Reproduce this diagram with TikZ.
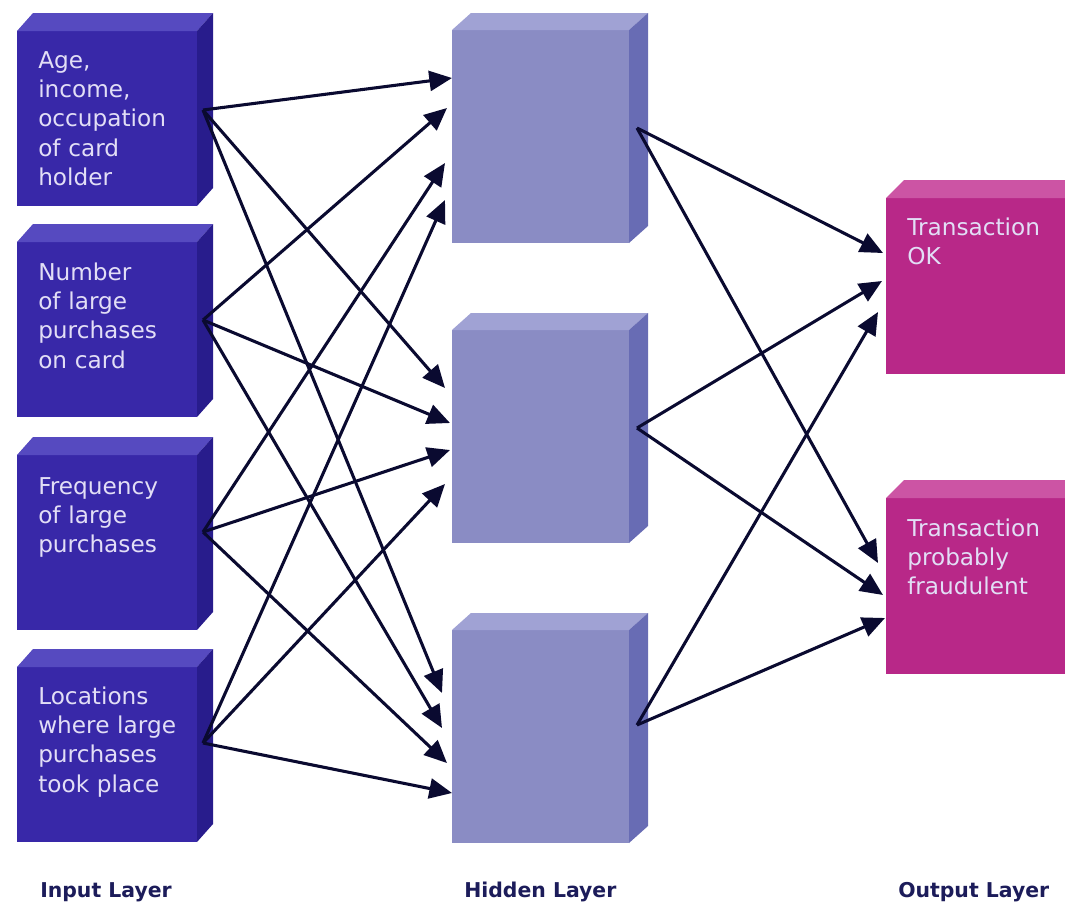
\documentclass[tikz,border=0pt]{standalone}
\usepackage{fontspec}
\setmainfont{DejaVu Sans}
\usetikzlibrary{arrows.meta}
\definecolor{inF}{RGB}{56,40,168}
\definecolor{inT}{RGB}{86,74,192}
\definecolor{inS}{RGB}{40,28,140}
\definecolor{hidF}{RGB}{138,140,196}
\definecolor{hidT}{RGB}{160,162,212}
\definecolor{hidS}{RGB}{104,108,180}
\definecolor{outF}{RGB}{184,40,136}
\definecolor{outT}{RGB}{204,84,164}
\definecolor{outS}{RGB}{150,30,110}
\definecolor{boxtext}{RGB}{226,222,246}
\definecolor{wire}{RGB}{10,10,48}
\definecolor{labeltext}{RGB}{28,28,90}
\newcommand\cubefaces[5]{%
  \fill[#4] (#1.north west) -- ++(#2,-#3) -- ([shift={(#2,-#3)}]#1.north east) -- (#1.north east) -- cycle;
  \fill[#5] (#1.north east) -- ([shift={(#2,-#3)}]#1.north east) -- ([shift={(#2,-#3)}]#1.south east) -- (#1.south east) -- cycle;}
\tikzset{
  box/.style={rectangle, inner sep=0pt, outer sep=0pt, anchor=north west},
  inbox/.style={box, fill=inF, minimum width=135pt, minimum height=131.25pt},
  hidbox/.style={box, fill=hidF, minimum width=132.75pt, minimum height=159.75pt},
  outbox/.style={box, fill=outF, minimum width=150pt, minimum height=132pt},
  boxtxt/.style={anchor=base west, inner sep=0pt, text width=135pt, align=left, text=boxtext, font=\fontsize{17.4}{22}\selectfont},
  layer/.style={anchor=base west, inner sep=0pt, text=labeltext, font=\bfseries\fontsize{15.3}{18}\selectfont},
  conn/.style={draw=wire, line width=2.3pt, -{Triangle[length=17pt,width=15pt]}}
}
\begin{document}
\begin{tikzpicture}[x=0.75pt,y=-0.75pt]
\clip (0,0) rectangle (1065,904);
\fill[white] (0,0) rectangle (1065,904);
% input boxes
\node[inbox] (in1) at (17,31) {};
\node[inbox] (in2) at (17,242) {};
\node[inbox] (in3) at (17,455) {};
\node[inbox] (in4) at (17,667) {};
\foreach \n in {in1,in2,in3,in4} {\cubefaces{\n}{16}{18}{inT}{inS}}
% hidden boxes
\node[hidbox] (hid1) at (452,30) {};
\node[hidbox] (hid2) at (452,330) {};
\node[hidbox] (hid3) at (452,630) {};
\foreach \n in {hid1,hid2,hid3} {\cubefaces{\n}{19}{17}{hidT}{hidS}}
% output boxes
\node[outbox] (out1) at (886,198) {};
\node[outbox] (out2) at (886,498) {};
\foreach \n in {out1,out2} {\cubefaces{\n}{18}{18}{outT}{outS}}
% texts
\node[boxtxt] (tx1) at (38,68) {Age,\\income,\\occupation\\of card\\holder};
\node[boxtxt] (tx2) at (38,280) {Number\\of large\\purchases\\on card};
\node[boxtxt] (tx3) at (38,494) {Frequency\\of large\\purchases};
\node[boxtxt] (tx4) at (38,704) {Locations\\where large\\purchases\\took place};
\node[boxtxt] (tx5) at (907,235) {Transaction\\OK};
\node[boxtxt] (tx6) at (907,536) {Transaction\\probably\\fraudulent};
\node[layer] (l1) at (40,897) {Input Layer};
\node[layer] (l2) at (464,897) {Hidden Layer};
\node[layer] (l3) at (898,897) {Output Layer};
% connector end points
\coordinate (s1) at (203,110);
\coordinate (s2) at (203,320);
\coordinate (s3) at (203,532);
\coordinate (s4) at (203,743);
\coordinate (a1) at (452,78);
\coordinate (a2) at (447,108);
\coordinate (a3) at (445,163);
\coordinate (a4) at (445,200);
\coordinate (b1) at (445,388);
\coordinate (b2) at (450,423);
\coordinate (b3) at (450,450);
\coordinate (b4) at (445,484);
\coordinate (c1) at (442,693);
\coordinate (c2) at (442,728);
\coordinate (c3) at (447,763);
\coordinate (c4) at (452,793);
\coordinate (h1) at (637,128);
\coordinate (h2) at (637,428);
\coordinate (h3) at (637,725);
\coordinate (o1) at (883,253);
\coordinate (o2) at (882,281);
\coordinate (o3) at (878,312);
\coordinate (p1) at (878,563);
\coordinate (p2) at (883,595);
\coordinate (p3) at (885,618);
% connectors
\draw[conn] (s1) -- (a1);
\draw[conn] (s2) -- (a2);
\draw[conn] (s3) -- (a3);
\draw[conn] (s4) -- (a4);
\draw[conn] (s1) -- (b1);
\draw[conn] (s2) -- (b2);
\draw[conn] (s3) -- (b3);
\draw[conn] (s4) -- (b4);
\draw[conn] (s1) -- (c1);
\draw[conn] (s2) -- (c2);
\draw[conn] (s3) -- (c3);
\draw[conn] (s4) -- (c4);
\draw[conn] (h1) -- (o1);
\draw[conn] (h2) -- (o2);
\draw[conn] (h3) -- (o3);
\draw[conn] (h1) -- (p1);
\draw[conn] (h2) -- (p2);
\draw[conn] (h3) -- (p3);
\end{tikzpicture}
\end{document}
